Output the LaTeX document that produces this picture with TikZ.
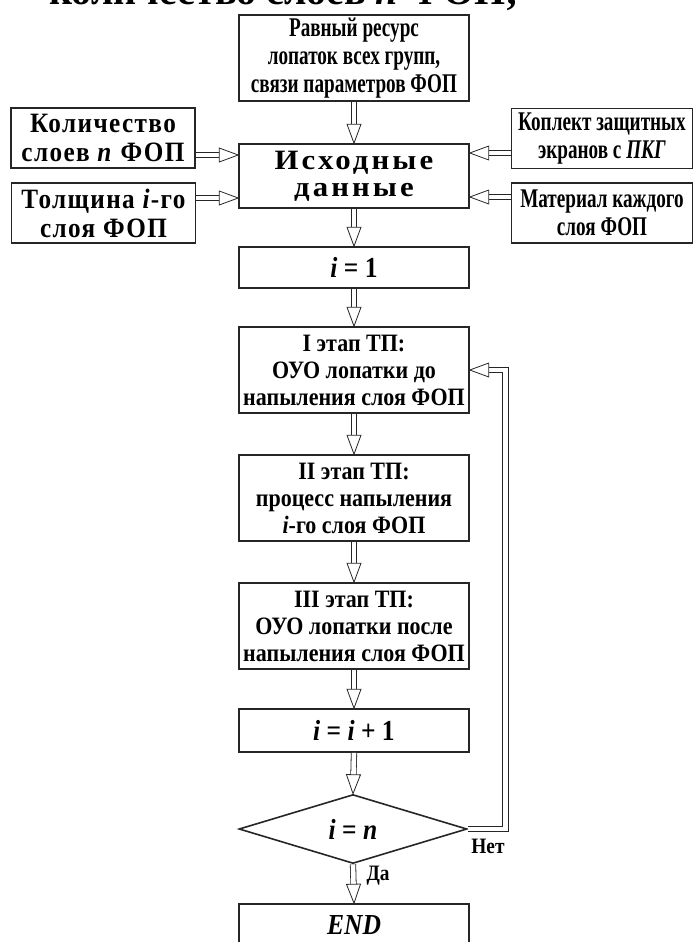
\documentclass[tikz,border=0pt]{standalone}
\usepackage{fontspec}
\setmainfont{Liberation Serif}[FakeStretch=0.88]
\newfontfamily\capfont{Liberation Serif}
\newfontfamily\narrowfont[FakeStretch=0.71]{Liberation Serif}
\newfontfamily\widefont[FakeStretch=0.9, LetterSpace=5]{Liberation Serif}
\newfontfamily\widerfont[FakeStretch=1.1, LetterSpace=11]{Liberation Serif}
\usetikzlibrary{shapes.geometric,decorations.markings}

\begin{document}
\begin{tikzpicture}[x=1pt, y=-1pt,
    box/.style={draw=black!85, line width=1.6pt, inner sep=0pt, align=center, minimum width=230pt},
    stage/.style={box, minimum height=86pt, font=\fontsize{25}{27}\selectfont\bfseries},
    formula/.style={box, font=\fontsize{29}{30}\selectfont\bfseries},
    side/.style={box, minimum width=184pt, minimum height=60pt},
    narrow/.style={font=\fontsize{27}{28}\selectfont\narrowfont\bfseries},
    wide/.style={font=\fontsize{28}{29}\selectfont\widefont\bfseries},
    hollow/.style={draw=black!85, line width=0.8pt, line join=miter, double=white, double distance=4.6pt, shorten >=18pt,
        postaction={decorate},
        decoration={markings, mark=at position 1 with {\draw[draw=black!85, line width=0.8pt, shorten >=0pt, fill=white, line join=miter] (0,0) -- (-19pt,7pt) -- (-19pt,-7pt) -- cycle;}}},
    lbl/.style={font=\fontsize{22}{22}\selectfont\bfseries}]

\useasboundingbox (0,0) rectangle (694,942);

\node[anchor=base, font=\fontsize{40}{40}\selectfont\capfont\bfseries] (cap) at (284,5) {количество слоев \textit{n} ФОП;};

\node[box, minimum height=86pt, narrow] (res) at (354,58) {Равный ресурс\\лопаток всех групп,\\связи параметров ФОП};
\node[box, minimum height=64pt, font=\fontsize{28}{27}\selectfont\widerfont\bfseries] (data) at (354,176) {Исходные\\данные};
\node[side, wide] (layers) at (103,138) {Количество\\слоев \textit{n} ФОП};
\node[side, wide] (thick) at (103.5,213) {Толщина \textit{i}-го\\слоя ФОП};
\node[side, minimum width=181pt, narrow] (screens) at (602,138.5) {Коплект защитных\\экранов с \textit{ПКГ}};
\node[side, minimum width=181pt, narrow] (mat) at (602,213) {Материал каждого\\слоя ФОП};

\node[formula, minimum height=41pt] (init) at (354,267.5) {\textit{i} = 1};
\node[stage] (st1) at (354,370) {I этап ТП:\\ОУО лопатки до\\напыления слоя ФОП};
\node[stage] (st2) at (354,498) {II этап ТП:\\процесс напыления\\\textit{i}-го слоя ФОП};
\node[stage] (st3) at (354,626) {III этап ТП:\\ОУО лопатки после\\напыления слоя ФОП};
\node[formula, minimum height=43pt] (next) at (354,730.5) {\textit{i} = \textit{i} + 1};
\node[diamond, draw=black!85, line width=1.6pt, inner sep=0pt, minimum width=228pt, minimum height=69pt,
    font=\fontsize{29}{30}\selectfont\bfseries] (check) at (353,829) {\textit{i} = \textit{n}};
\node[formula, minimum height=43pt] (stop) at (354,925.5) {\textit{END}};

\foreach \a/\b in {res/data, data/init, init/st1, st1/st2, st2/st3, st3/next, next/check, check/stop}
    \draw[hollow] (\a.south) -- (\b.north);

\coordinate (inA) at ([yshift=21pt]data.west);
\coordinate (inB) at ([yshift=-22pt]data.west);
\coordinate (inC) at ([yshift=23pt]data.east);
\coordinate (inD) at ([yshift=-21pt]data.east);
\draw[hollow] (layers.east |- inA) -- (inA);
\draw[hollow] (thick.east |- inB) -- (inB);
\draw[hollow] (screens.west |- inC) -- (inC);
\draw[hollow] (mat.west |- inD) -- (inD);

\coordinate (back) at (505.5,600);
\draw[hollow] (check.east) -- (check.east -| back) -- (back |- st1.east) -- (st1.east);

\node[lbl] (no) at (488,846) {Нет};
\node[lbl] (yes) at (378,876) {Да};

\end{tikzpicture}
\end{document}
